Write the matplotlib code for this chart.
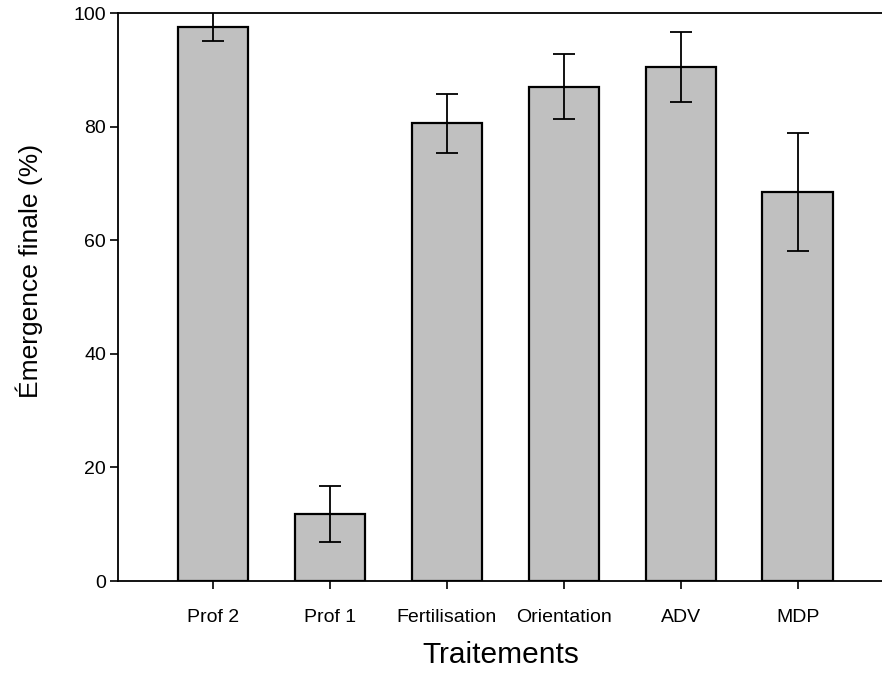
import matplotlib.pyplot as plt

# Émergence finale par traitement (moyenne et erreur type)
traitements = ['Prof 2', 'Prof 1', 'Fertilisation', 'Orientation', 'ADV', 'MDP']
emergence = [97.6, 11.8, 80.6, 87.0, 90.5, 68.5]
erreur = [2.5, 5.0, 5.2, 5.7, 6.2, 10.4]

plt.rcParams['font.family'] = ['Liberation Sans', 'DejaVu Sans']

fig = plt.figure(figsize=(8.82, 6.75), dpi=100)
ax = fig.add_axes([118 / 882, 94 / 675, 779 / 882, 568 / 675])

x = range(len(traitements))
ax.bar(x, emergence, width=0.6, color='#c0c0c0', edgecolor='black', linewidth=1.6, zorder=2)
ax.errorbar(x, emergence, yerr=erreur, fmt='none', ecolor='black', elinewidth=1.3,
            capsize=8, capthick=1.3, zorder=3)

ax.set_xlim(-0.81, 5.85)
ax.set_ylim(0, 100)
ax.set_yticks([0, 20, 40, 60, 80, 100])
ax.set_xticks(list(x))
ax.set_xticklabels(traitements, fontsize=14)
ax.tick_params(axis='y', labelsize=14, length=5.5, width=1.2, direction='out', pad=3)
ax.tick_params(axis='x', length=5.5, width=1.2, direction='out', pad=15)
for s in ax.spines.values():
    s.set_linewidth(1.3)
ax.spines['right'].set_visible(False)

ax.set_xlabel('Traitements', fontsize=21.5)
ax.set_ylabel('Émergence finale (%)', fontsize=19)
ax.xaxis.set_label_coords(0.492, -0.106)
ax.yaxis.set_label_coords(-0.096, 0.546)

fig.savefig('out.png', dpi=100)
